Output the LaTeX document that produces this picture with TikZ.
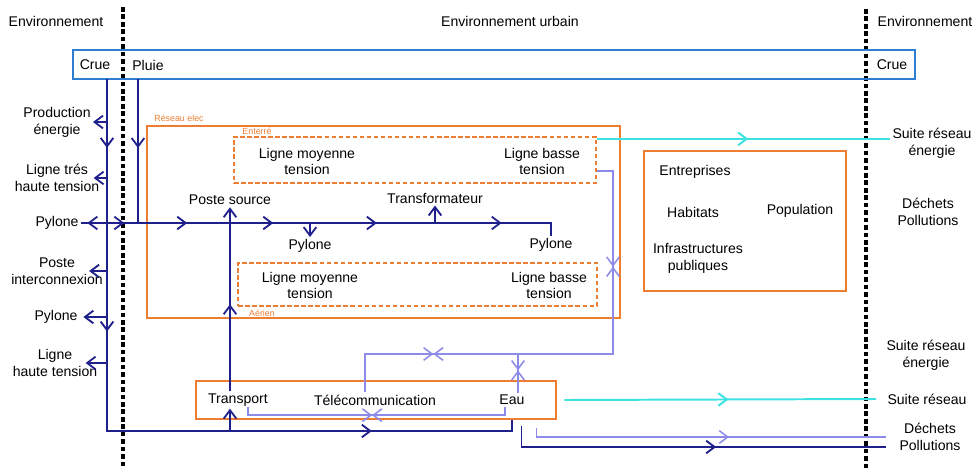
\documentclass[tikz,border=0pt]{standalone}
\usepackage{fontspec}
\setmainfont{Liberation Sans}
\usetikzlibrary{arrows.meta,decorations.markings,fit,calc}
\definecolor{navyc}{RGB}{32,32,140}
\definecolor{lilac}{RGB}{140,140,232}
\definecolor{cyanc}{RGB}{60,225,225}
\definecolor{orng}{RGB}{237,125,49}
\definecolor{blueb}{RGB}{45,125,210}
\begin{document}
\begin{tikzpicture}[x=0.025cm,y=-0.025cm,
  >={Straight Barb[length=6pt,width=9pt]},
  txt/.style={font=\fontsize{10}{12}\selectfont, align=center, inner sep=1.5pt},
  sublbl/.style={font=\fontsize{6.3}{7}\selectfont, text=orng, inner sep=0pt},
  nv/.style={draw=navyc, line width=1.3pt},
  lc/.style={draw=lilac, line width=1.1pt},
  cy/.style={draw=cyanc, line width=1.4pt},
  obox/.style={draw=orng, line width=2.1pt, inner sep=0pt},
  dbox/.style={draw=orng, line width=1.6pt, dash pattern=on 3.2pt off 1.8pt, inner sep=0pt},
  divider/.style={draw=black, line width=2.3pt, dash pattern=on 3.3pt off 2pt},
  fa/.style={postaction={decorate,decoration={markings,mark=at position #1 with {\arrow{>}}}}},
  ba/.style={postaction={decorate,decoration={markings,mark=at position #1 with {\arrowreversed{>}}}}},
  xa/.style={postaction={decorate,decoration={markings,mark=at position #1 with {\arrow{>}\arrowreversed{>}}}}},
]
\useasboundingbox (0,0) rectangle (976,468);

% dividers
\coordinate (dl1) at (123,7); \coordinate (dl2) at (123,468);
\coordinate (dr1) at (866,9); \coordinate (dr2) at (866,468);
\draw[divider] (dl1) -- (dl2);
\draw[divider] (dr1) -- (dr2);

% header labels
\node[txt] (envL) at (56,21) {Environnement};
\node[txt] (envU) at (510,21) {Environnement urbain};
\node[txt] (envR) at (925,21) {Environnement};

% boxes
\coordinate (rb1) at (73,50); \coordinate (rb2) at (915,79);
\node[draw=blueb, line width=2pt, inner sep=0pt, fit=(rb1)(rb2)] (rain) {};
\coordinate (re1) at (147,126); \coordinate (re2) at (620,318);
\node[obox, fit=(re1)(re2)] (reseau) {};
\coordinate (en1) at (234,137); \coordinate (en2) at (596,183);
\node[dbox, fit=(en1)(en2)] (ent) {};
\coordinate (ae1) at (238,263); \coordinate (ae2) at (597,306);
\node[dbox, fit=(ae1)(ae2)] (aer) {};
\coordinate (pb1) at (644,151); \coordinate (pb2) at (846,291);
\node[obox, fit=(pb1)(pb2)] (popbox) {};
\coordinate (bb1) at (196,381); \coordinate (bb2) at (556,419);
\node[obox, fit=(bb1)(bb2)] (botbox) {};

\node[sublbl] (resL) at (179,118) {Réseau elec};
\node[sublbl] (entL) at (257,131) {Enterré};
\node[sublbl] (aerL) at (262,313) {Aérien};

% texts
\node[txt] (crueL) at (95,65) {Crue};
\node[txt] (pluie) at (148,65) {Pluie};
\node[txt] (crueR) at (892,65) {Crue};

\node[txt] (prod) at (57,122) {Production\\énergie};
\node[txt] (ltht) at (57,178) {Ligne trés\\haute tension};
\node[txt] (pyl1) at (57,223) {Pylone};
\node[txt] (poste) at (57,271) {Poste\\interconnexion};
\node[txt] (pyl2) at (56,317) {Pylone};
\node[txt] (lht) at (55,363) {Ligne\\haute tension};

\node[txt] (lmt1) at (307,161.5) {Ligne moyenne\\tension};
\node[txt] (lbt1) at (542,161.5) {Ligne basse\\tension};
\node[txt] (pstsrc) at (230,200) {Poste source};
\node[txt] (transf) at (435,198) {Transformateur};
\node[txt] (pylM) at (310,246) {Pylone};
\node[txt] (pylR) at (551,245) {Pylone};
\node[txt] (lmt2) at (310,285.5) {Ligne moyenne\\tension};
\node[txt] (lbt2) at (549,285.5) {Ligne basse\\tension};

\node[txt] (entr) at (695,172) {Entreprises};
\node[txt] (habit) at (693,212) {Habitats};
\node[txt] (popu) at (800,211) {Population};
\node[txt] (infra) at (698,258) {Infrastructures\\publiques};

\node[txt] (transp) at (238,400) {Transport};
\node[txt] (telecom) at (375,400) {Télécommunication};
\node[txt] (eau) at (512,400) {Eau};

\node[txt] (sre1) at (932,143.5) {Suite réseau\\énergie};
\node[txt] (dp1) at (928,211.5) {Déchets\\Pollutions};
\node[txt] (sre2) at (926,355.5) {Suite réseau\\énergie};
\node[txt] (sr) at (927,399) {Suite réseau};
\node[txt] (dp2) at (930,437) {Déchets\\Pollutions};

% navy connectors
\coordinate (crx) at (107,79);
\coordinate (plx) at (138,79);
\coordinate (bot) at (107,431);
\draw[nv, fa=0.0897, fa=0.329, fa=0.8036] (crx) -- (bot) -| (eau.south |- botbox.south);
\draw[nv, fa=0.479] (plx) -- (plx |- pyl1.east);
\draw[nv, ba=0.0134, fa=0.0899, fa=0.220, fa=0.398, fa=0.6126, fa=0.871]
  (pyl1.east) -- (pyl1.east -| pylR.north) -- (pylR.north);
\draw[nv,->] (pylM.north |- pyl1.east) -- (pylM.north);
\draw[nv,->] (transf.south |- pyl1.east) -- (transf.south);
\draw[nv, fa=0.473, ->] (transp.north -| pstsrc.south) -- (pstsrc.south);
\draw[nv,->] (pstsrc.south |- bot) -- (pstsrc.south |- transp.south);

\draw[nv,->] (prod.east -| crx) -- (prod.east);
\draw[nv,->] (ltht.east -| crx) -- ($(ltht.east)+(-8,0)$);
\draw[nv,->] (poste.east -| crx) -- ($(poste.east)+(-16,0)$);
\draw[nv,->] (pyl2.east -| crx) -- ($(pyl2.east)+(3.5,0)$);
\draw[nv,->] (lht.east -| crx) -- ($(lht.east)+(-14,0)$);

% cyan
\coordinate (c1) at ($(ent.north east)+(0,3)$);
\draw[cy, fa=0.516] (c1) -- (c1 -| sre1.west);
\coordinate (c2) at ($(botbox.east)+(7,0)$);
\draw[cy, fa=0.526] (c2) -- ($(sr.west)+(-9,0)$);

% lilac
\coordinate (lk) at (613,354);
\draw[lc, xa=0.230, xa=0.780] ($(ent.east)+(0,11)$) -| (lk) -| ($(telecom.north)+(-10,0)$);
\coordinate (ej) at ($(eau.north)+(6,0)$);
\draw[lc, xa=0.42] (ej |- lk) -- (ej);
\coordinate (t1) at ($(transp.south)+(10,-2)$);
\coordinate (e1) at ($(eau.south)+(-7,0)$);
\draw[lc, xa=0.485] (t1) -- ++(0,8.5) -| (e1);
\coordinate (l3) at ($(botbox.south east)+(-21,8)$);
\draw[lc, fa=0.5615] (l3) |- ($(dp2.west)+(-11,0)$);
\coordinate (n3) at ($(botbox.south east)+(-36,6)$);
\draw[nv, fa=0.5586] (n3) |- ($(dp2.west)+(-11,10)$);
\end{tikzpicture}
\end{document}
